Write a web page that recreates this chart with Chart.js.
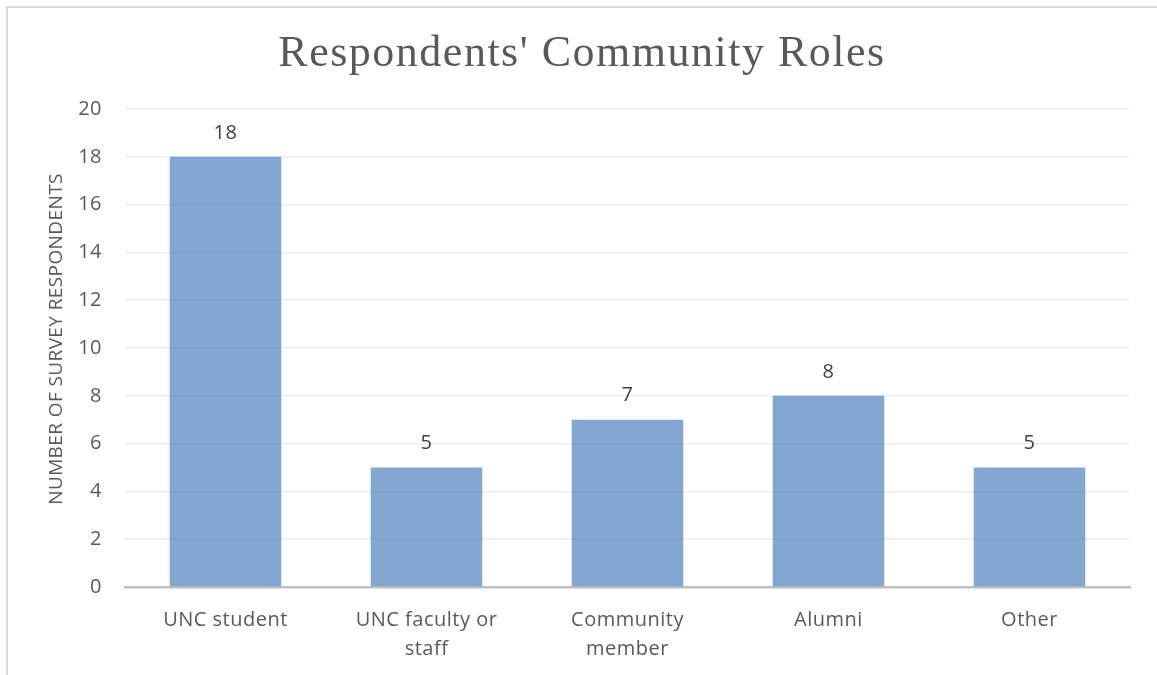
<!DOCTYPE html>
<html>
<head>
<meta charset="utf-8">
<script src="https://cdn.jsdelivr.net/npm/chart.js@4.4.1/dist/chart.umd.min.js"></script>
<style>
  html, body { margin: 0; padding: 0; background: #ffffff; }
  #wrap { position: relative; width: 1157px; height: 675px; overflow: hidden; }
  #frame { position: absolute; left: 6px; top: 6px; width: 1200px; height: 700px;
           border-left: 2px solid #d9d9d9; border-top: 2px solid #d9d9d9; }
  canvas { position: absolute; left: 0; top: 0; }
</style>
</head>
<body>
<div id="wrap">
  <div id="frame"></div>
  <canvas id="chart" width="1157" height="675"></canvas>
</div>
<script>
// Respondent counts by community role
const categories = [
  'UNC student',
  ['UNC faculty or', 'staff'],
  ['Community', 'member'],
  'Alumni',
  'Other'
];
const respondents = [18, 5, 7, 8, 5];
const yTicks = [0, 2, 4, 6, 8, 10, 12, 14, 16, 18, 20];

const chartTitle = "Respondents' Community Roles";
const yTitle = 'NUMBER OF SURVEY RESPONDENTS';

const textColor = '#595959';
const uiFont = "'Open Sans', 'DejaVu Sans', sans-serif";

// Title, y-axis caption and value labels drawn onto the canvas
const annotations = {
  id: 'annotations',
  beforeDraw(chart) {
    chart.ctx.letterSpacing = '0.5px';
  },
  afterDatasetsDraw(chart) {
    const ctx = chart.ctx;
    const meta = chart.getDatasetMeta(0);
    ctx.save();
    ctx.letterSpacing = '0.5px';
    ctx.fillStyle = '#404040';
    ctx.font = "20px " + uiFont;
    ctx.textAlign = 'center';
    ctx.textBaseline = 'middle';
    meta.data.forEach((bar, i) => {
      ctx.fillText(String(respondents[i]), bar.x, bar.y - 24);
    });
    ctx.restore();
  },
  afterDraw(chart) {
    const ctx = chart.ctx;
    ctx.save();
    ctx.fillStyle = textColor;
    ctx.letterSpacing = '1.5px';
    ctx.font = "44px 'Liberation Serif', 'DejaVu Serif', serif";
    ctx.textAlign = 'center';
    ctx.textBaseline = 'middle';
    ctx.fillText(chartTitle, 582, 54);

    ctx.letterSpacing = '0.4px';
    ctx.font = "19px " + uiFont;
    ctx.translate(57, 339);
    ctx.rotate(-Math.PI / 2);
    ctx.fillText(yTitle, 0, 0);
    ctx.restore();
  }
};

new Chart(document.getElementById('chart'), {
  type: 'bar',
  data: {
    labels: categories,
    datasets: [{
      data: respondents,
      backgroundColor: 'rgba(79,129,189,0.7)',
      borderWidth: 0,
      categoryPercentage: 1.0,
      barPercentage: 0.555
    }]
  },
  options: {
    responsive: false,
    animation: false,
    events: [],
    layout: { padding: { top: 109, left: 0, right: 27, bottom: 0 } },
    plugins: {
      legend: { display: false },
      title: { display: false },
      tooltip: { enabled: false }
    },
    scales: {
      x: {
        grid: { display: false, drawTicks: false },
        border: { display: true, color: '#bfbfbf', width: 2.5 },
        ticks: {
          color: textColor,
          font: { family: uiFont, size: 20, lineHeight: 1.45 },
          padding: 19,
          maxRotation: 0,
          autoSkip: false
        },
        afterFit(scale) { scale.height = 88; }
      },
      y: {
        min: 0,
        max: 20,
        afterBuildTicks(scale) { scale.ticks = yTicks.map(v => ({ value: v })); },
        grid: { color: '#ececec', lineWidth: 1.5, drawTicks: false },
        border: { display: false },
        ticks: {
          color: textColor,
          font: { family: uiFont, size: 20 },
          padding: 23
        },
        afterFit(scale) { scale.width = 125; }
      }
    }
  },
  plugins: [annotations]
});
</script>
</body>
</html>
